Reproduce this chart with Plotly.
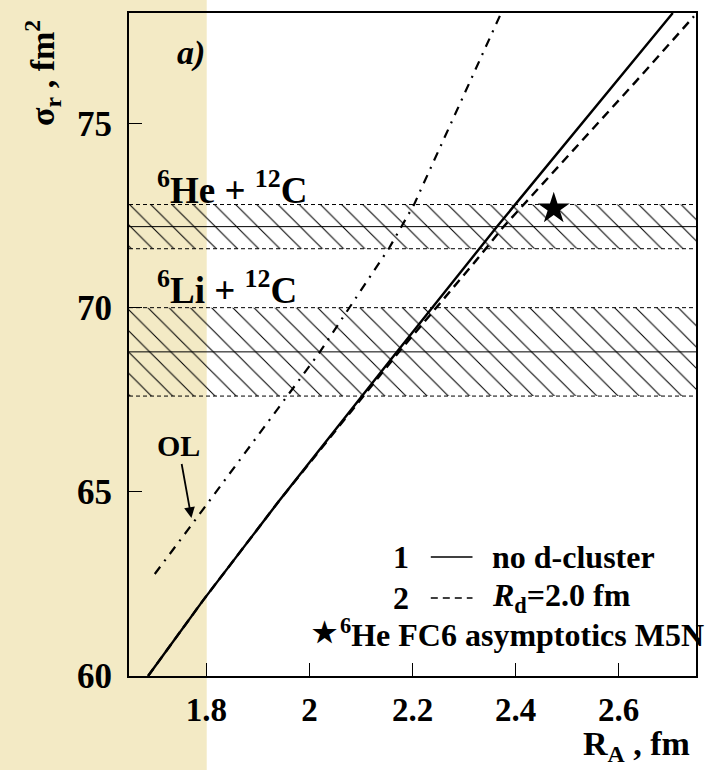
import plotly.graph_objects as go

# ---------------- data ----------------
x_ticks = [1.8, 2.0, 2.2, 2.4, 2.6]
x_tick_labels = ["1.8", "2", "2.2", "2.4", "2.6"]
y_ticks = [60, 65, 70, 75]
y_tick_labels = ["60", "65", "70", "75"]

# curve 1: no d-cluster (solid)
solid_R = [1.687, 1.793, 1.941, 2.168, 2.3645, 2.596, 2.705]
solid_sig = [60.0, 62.04, 64.75, 68.77, 72.21, 76.15, 78.0]

# curve 2: R_d = 2.0 fm (dashed)
dashed_R = [1.687, 1.793, 1.941, 2.172, 2.3227, 2.3774, 2.634, 2.746]
dashed_sig = [60.0, 62.04, 64.75, 68.77, 71.27, 72.21, 76.15, 77.91]

# OL curve (dash-dot)
ol_R = [1.70, 1.767, 2.019, 2.1547, 2.2027, 2.372]
ol_sig = [62.77, 64.02, 68.77, 71.62, 72.79, 78.0]

# experimental bands (center, half-width)
he_center, he_err = 72.2, 0.6
li_center, li_err = 68.8, 1.2

# 6He FC6 asymptotics M5N point
star_R = [2.474]
star_sig = [72.69]

x_range = [1.65, 2.75]
y_range = [60, 78]

FONT = "Liberation Serif"

fig = go.Figure()

# hatched bands
for c, e in [(he_center, he_err), (li_center, li_err)]:
    lo, hi = c - e, c + e
    fig.add_trace(go.Scatter(
        x=[x_range[0], x_range[1], x_range[1], x_range[0], x_range[0]],
        y=[lo, lo, hi, hi, lo],
        mode="lines", line=dict(width=0, color="rgba(0,0,0,0)"),
        fill="toself", fillcolor="rgba(0,0,0,0)",
        fillpattern=dict(shape="\\", fgcolor="black", bgcolor="rgba(0,0,0,0)",
                         size=15, solidity=0.07, fillmode="replace"),
        hoverinfo="skip", showlegend=False))
    for yy, dash in [(lo, "4px,3px"), (hi, "4px,3px"), (c, "solid")]:
        fig.add_trace(go.Scatter(x=x_range, y=[yy, yy], mode="lines",
                                 line=dict(color="black", width=1, dash=dash),
                                 hoverinfo="skip", showlegend=False))

fig.add_trace(go.Scatter(x=ol_R, y=ol_sig, mode="lines",
                         line=dict(color="black", width=2.2, dash="9px,7px,2px,7px"),
                         showlegend=False))
fig.add_trace(go.Scatter(x=dashed_R, y=dashed_sig, mode="lines",
                         line=dict(color="black", width=2.4, dash="9px,6px"),
                         showlegend=False))
fig.add_trace(go.Scatter(x=solid_R, y=solid_sig, mode="lines",
                         line=dict(color="black", width=2.4),
                         showlegend=False))
fig.add_trace(go.Scatter(x=star_R, y=star_sig, mode="markers",
                         marker=dict(symbol="star", size=24, color="black"),
                         showlegend=False))

# beige strip on the left
fig.add_shape(type="rect", xref="paper", yref="paper",
              x0=-0.24, x1=(207 - 129) / 569, y0=-0.2, y1=1.05,
              fillcolor="rgb(243,234,197)", line=dict(width=0), layer="below")

annotations = []
def txt(x, y, text, size, xanchor="left", xref="x", yref="y", **kw):
    annotations.append(dict(x=x, y=y, xref=xref, yref=yref, text=text, showarrow=False,
                            xanchor=xanchor, yanchor="middle",
                            font=dict(family=FONT, size=size, color="black", weight="bold"), **kw))

txt(1.6998, 73.25, "<sup>6</sup>He + <sup>12</sup>C", 37)
txt(1.6998, 70.55, "<sup>6</sup>Li + <sup>12</sup>C", 37)
txt(0.109, 0.94, "<i>a)</i>", 34, xanchor="center", xref="paper", yref="paper")

# legend
txt(2.178, 63.23, "1", 32, xanchor="center")
txt(2.351, 63.23, "no d-cluster", 32)
txt(2.178, 62.12, "2", 32, xanchor="center")
txt(2.351, 62.12, "<i>R</i><sub>d</sub>=2.0 fm", 32)
txt(2.029, 61.17, "★", 28, xanchor="center")
txt(2.055, 61.17, "<sup>6</sup>He FC6 asymptotics M5N", 32)
fig.add_shape(type="line", xref="x", yref="y", x0=2.2355, x1=2.3164, y0=63.23, y1=63.23,
              line=dict(color="black", width=1.5))
fig.add_shape(type="line", xref="x", yref="y", x0=2.2355, x1=2.3164, y0=62.12, y1=62.12,
              line=dict(color="black", width=1.5, dash="7px,5px"))

# axis titles
txt(-0.153, 0.91, "σ<sub>r</sub> , fm<sup>2</sup>", 34, xanchor="center",
    xref="paper", yref="paper", textangle=-90)
txt(0.895, -0.105, "R<sub>A</sub> , fm", 34, xanchor="center", xref="paper", yref="paper")

# OL arrow
annotations.append(dict(x=1.7711, y=64.29, xref="x", yref="y", text="OL",
                        showarrow=True, ax=-13, ay=-72, arrowhead=2, arrowsize=1.2,
                        arrowwidth=1.8, arrowcolor="black", standoff=0,
                        font=dict(family=FONT, size=30, color="black", weight="bold")))

fig.update_layout(
    width=709, height=770,
    margin=dict(l=129, r=11, t=12, b=94),
    paper_bgcolor="white", plot_bgcolor="rgba(0,0,0,0)",
    annotations=annotations,
    xaxis=dict(range=x_range, tickvals=x_ticks, ticktext=x_tick_labels,
               ticks="inside", ticklen=13, tickwidth=1, tickcolor="black",
               showline=True, linecolor="black", linewidth=2, mirror=True,
               showgrid=False, zeroline=False, ticklabelstandoff=3,
               tickfont=dict(family=FONT, size=33, color="black", weight="bold")),
    yaxis=dict(range=y_range, tickvals=y_ticks, ticktext=y_tick_labels,
               ticks="inside", ticklen=13, tickwidth=1, tickcolor="black",
               showline=True, linecolor="black", linewidth=2, mirror=True,
               showgrid=False, zeroline=False, ticklabelstandoff=8,
               tickfont=dict(family=FONT, size=35, color="black", weight="bold")),
)

fig.write_html("out.html")
